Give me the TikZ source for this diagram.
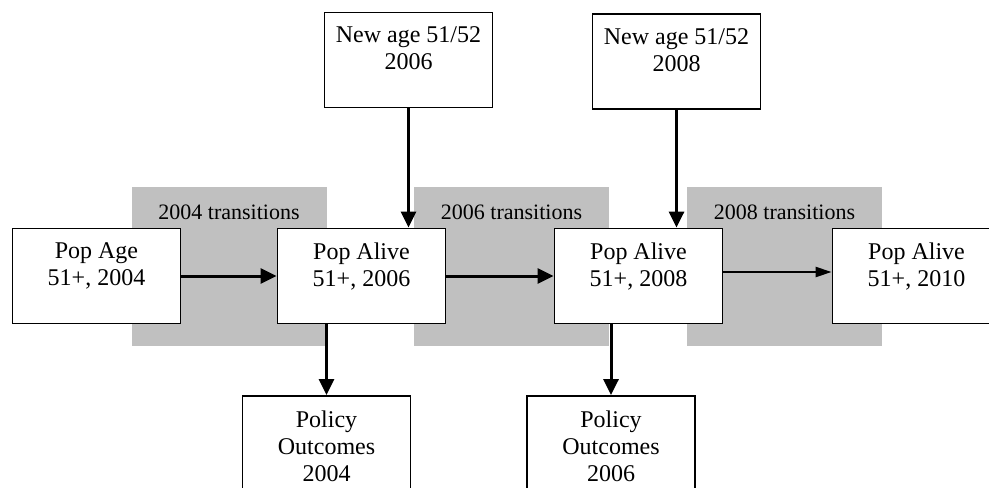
\documentclass[tikz,border=0pt]{standalone}
\usepackage{fontspec}
\setmainfont{Liberation Serif}
\usetikzlibrary{arrows.meta,positioning}
\definecolor{transgray}{RGB}{192,192,192}
\tikzset{
    flow diagram/.style = {x=0.5pt, y=-0.5pt,
                           >={Triangle[length=8pt, width=7.5pt]}},
    box/.style          = {draw, line width=0.9pt, fill=white, inner sep=0pt,
                           minimum width=84pt, minimum height=47.5pt},
    tallbox/.style      = {box, minimum height=70pt},
    boxtext/.style      = {font=\fontsize{12}{13.5}\selectfont,
                           align=center, inner sep=0pt},
    window/.style       = {fill=transgray, inner sep=0pt,
                           minimum width=97.5pt, minimum height=79.5pt},
    wintext/.style      = {font=\fontsize{11}{13}\selectfont, inner sep=0pt},
    flow line/.style    = {line width=1.5pt},
    thin tip/.style     = {line width=1.2pt,
                           >={Triangle[length=8pt, width=5pt]}}
}

\begin{document}
\begin{tikzpicture}[flow diagram]
\path[use as bounding box, clip] (0,0) rectangle (989,487);

% ================= Transition windows (background) =================
\node[window] (trans04) at (229.0, 266.5) {};
\node[window] (trans06) at (511.5, 266.5) {};
\node[window] (trans08) at (784.5, 266.5) {};
\node[wintext, below=9pt of trans04.north] (trans04-t) {2004 transitions};
\node[wintext, below=9pt of trans06.north] (trans06-t) {2006 transitions};
\node[wintext, below=9pt of trans08.north] (trans08-t) {2008 transitions};

% ================= Population row =================
\node[box] (popage)  at ( 96.5, 276) {};
\node[box] (alive06) at (361.5, 276) {};
\node[box] (alive08) at (638.5, 276) {};
\node[box] (alive10) at (916.5, 276) {};
\node[boxtext, below=7.5pt of popage.north]  (popage-t)  {Pop Age\\51+, 2004};
\node[boxtext, below=7.5pt of alive06.north] (alive06-t) {Pop Alive\\51+, 2006};
\node[boxtext, below=7.5pt of alive08.north] (alive08-t) {Pop Alive\\51+, 2008};
\node[boxtext, below=7.5pt of alive10.north] (alive10-t) {Pop Alive\\51+, 2010};

\draw[->, flow line] (popage.east) -- (alive06.west);
\draw[->, flow line] (alive06.east) -- (alive08.west);
\draw[->, flow line, thin tip] ([yshift=2pt]alive08.east) -- ([yshift=2pt]alive10.west);

% ================= New entrants (top) =================
\node[box] (new06) at (408.5, 60.0) {};
\node[box] (new08) at (676.5, 61.5) {};
\node[boxtext, below=7.5pt of new06.north] (new06-t) {New age 51/52\\2006};
\node[boxtext, below=7.5pt of new08.north] (new08-t) {New age 51/52\\2008};

\draw[->, flow line] (new06.south) -- (new06.south |- alive06.north);
\draw[->, flow line] (new08.south) -- (new08.south |- alive08.north);

% ================= Policy outcomes (bottom) =================
\node[tallbox] (policy04) at (326.5, 466) {};
\node[tallbox] (policy06) at (611.0, 466) {};
\node[boxtext, below=7.5pt of policy04.north] (policy04-t) {Policy\\Outcomes\\2004};
\node[boxtext, below=7.5pt of policy06.north] (policy06-t) {Policy\\Outcomes\\2006};

\draw[->, flow line] (policy04.north |- alive06.south) -- (policy04.north);
\draw[->, flow line] (policy06.north |- alive08.south) -- (policy06.north);

\end{tikzpicture}
\end{document}
